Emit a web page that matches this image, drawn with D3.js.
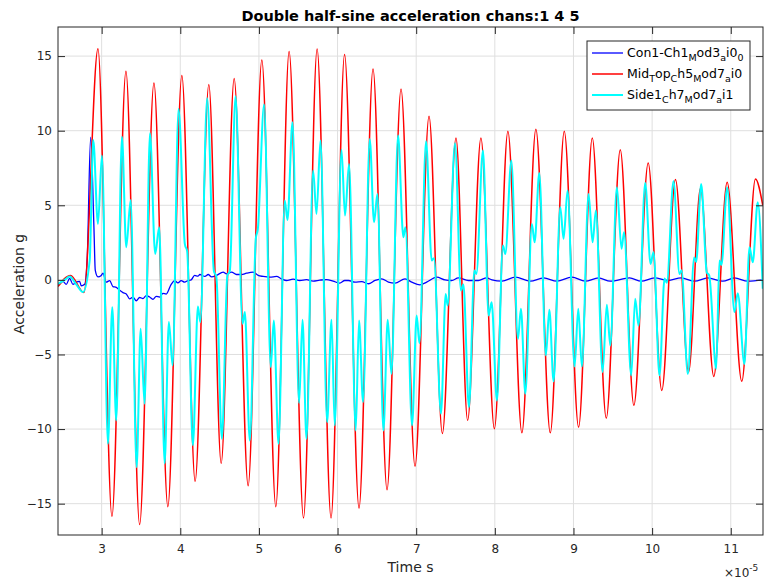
<!DOCTYPE html>
<html>
<head>
<meta charset="utf-8">
<script src="https://cdn.jsdelivr.net/npm/d3@7"></script>
<style>
  body { margin: 0; background: #fff; }
  svg { font-family: "DejaVu Sans", sans-serif; }
</style>
</head>
<body>
<svg id="chart" width="765" height="580"></svg>
<script>
// time values are in units of 1e-5 s (axis shows x10^-5)
const conTime = [2.445,2.508,2.550,2.593,2.635,2.677,2.720,2.741,2.784,2.817,2.860,2.902,2.919,2.953,2.995,3.017,3.058,3.102,3.144,3.186,3.229,3.271,3.313,3.356,3.398,3.440,3.483,3.525,3.567,3.610,3.652,3.694,3.737,3.779,3.821,3.884,3.928,3.970,4.011,4.055,4.097,4.139,4.182,4.224,4.249,4.313,4.355,4.398,4.461,4.545,4.588,4.652,4.715,4.779,4.842,4.926,4.990,5.053,5.139,5.224,5.287,5.351,5.435,5.520,5.605,5.689,5.774,5.859,5.943,6.028,6.092,6.139,6.222,6.308,6.393,6.477,6.562,6.647,6.731,6.858,6.943,7.048,7.133,7.261,7.366,7.451,7.536,7.663,7.790,7.896,7.963,8.090,8.261,8.451,8.620,8.789,8.980,9.150,9.319,9.468,9.713,9.862,10.031,10.200,10.370,10.539,10.708,10.898,11.047,11.216,11.407];
const conAccel = [-0.38,-0.1,-0.3,0.1,-0.3,-0.15,-0.1,-0.4,-0.3,1.5,9.56,3.5,0.63,0.2,0.3,0.45,-0.15,-0.05,-0.45,-0.5,-0.7,-0.85,-0.94,-1.27,-1.15,-1.4,-1.18,-1.25,-1.05,-1.15,-1.3,-1.1,-1.15,-0.9,-0.95,-0.3,-0.05,-0.2,-0.05,-0.15,-0.05,0.0,0.3,0.25,0.36,0.23,0.36,0.2,0.3,0.52,0.4,0.52,0.36,0.36,0.45,0.52,0.3,0.23,0.18,0.23,0.07,-0.04,0.05,-0.04,0.02,-0.08,-0.02,0.02,-0.08,-0.22,-0.04,-0.04,-0.15,-0.12,-0.26,-0.04,0.07,-0.15,-0.22,0.07,-0.15,-0.33,-0.15,0.18,0.0,-0.04,0.13,-0.04,-0.04,0.13,0.0,-0.09,0.18,-0.09,0.13,-0.09,0.18,-0.09,0.13,-0.09,0.13,-0.09,0.13,-0.04,0.13,-0.09,0.13,-0.09,0.13,-0.09,0.0];

const midTime = [2.445,2.604,2.775,2.953,3.131,3.309,3.483,3.665,3.842,4.020,4.189,4.363,4.520,4.685,4.863,5.037,5.215,5.384,5.567,5.740,5.917,6.089,6.273,6.451,6.629,6.807,6.985,7.163,7.333,7.506,7.654,7.823,7.994,8.166,8.344,8.522,8.705,8.883,9.065,9.239,9.417,9.595,9.768,9.950,10.123,10.297,10.463,10.615,10.784,10.954,11.140,11.314,11.407];
const midAccel = [-0.45,0.3,-0.85,15.5,-15.85,13.98,-16.4,13.2,-15.2,13.7,-13.5,13.1,-12.3,13.5,-13.8,14.73,-15.2,15.3,-15.96,15.47,-15.96,15.1,-15.3,14.13,-14.07,12.8,-12.5,10.96,-10.3,9.51,-9.42,9.51,-9.98,9.96,-10.25,10.1,-10.25,9.96,-9.87,9.51,-9.27,8.73,-8.41,7.84,-7.41,6.72,-6.18,6.14,-6.47,6.54,-6.8,6.77,5.0];

const sideTime = [2.445,2.530,2.593,2.677,2.762,2.848,2.893,2.953,3.004,3.080,3.135,3.186,3.258,3.313,3.369,3.445,3.496,3.546,3.614,3.681,3.732,3.801,3.855,3.902,3.978,4.058,4.088,4.160,4.224,4.255,4.342,4.427,4.459,4.529,4.599,4.630,4.703,4.792,4.821,4.884,4.961,4.986,5.066,5.151,5.189,5.249,5.329,5.363,5.427,5.511,5.554,5.605,5.689,5.732,5.783,5.867,5.923,5.964,6.050,6.095,6.146,6.231,6.273,6.324,6.409,6.464,6.507,6.583,6.638,6.685,6.769,6.837,6.863,6.947,7.006,7.041,7.125,7.197,7.226,7.315,7.375,7.400,7.493,7.569,7.600,7.671,7.740,7.765,7.849,7.921,7.959,8.027,8.103,8.133,8.210,8.294,8.332,8.388,8.471,8.506,8.565,8.649,8.693,8.747,8.832,8.874,8.925,9.014,9.061,9.107,9.192,9.243,9.285,9.370,9.424,9.468,9.552,9.611,9.643,9.734,9.785,9.827,9.912,9.980,10.018,10.094,10.158,10.187,10.272,10.348,10.374,10.454,10.535,10.560,10.624,10.695,10.726,10.815,10.856,10.882,10.954,11.047,11.089,11.174,11.238,11.280,11.343,11.407];
const sideAccel = [-0.27,0.0,0.23,-0.3,-0.82,1.3,9.38,3.75,8.33,-10.98,-1.83,-9.42,9.6,2.19,5.36,-12.55,-3.28,-8.3,9.83,1.74,3.53,-12.3,-2.83,-5.73,11.45,2.4,1.9,-11.09,-1.78,-2.83,12.17,0.6,0.2,-10.65,0.3,0.6,12.3,-2.94,-2.16,-10.76,2.8,3.4,11.75,-5.85,-2.72,-10.98,5.32,4.02,10.56,-8.26,-2.68,-10.65,7.33,4.42,9.34,-9.53,-2.68,-9.75,8.73,4.31,7.77,-10.09,-2.72,-8.19,9.45,3.86,5.76,-10.09,-2.68,-6.3,9.67,2.86,3.53,-9.75,-2.39,-4.24,9.29,1.3,1.45,-8.97,-0.94,-1.72,9.16,-0.71,-0.31,-8.53,0.63,0.4,8.67,-2.39,-1.5,-8.08,2.3,1.74,8.0,-3.95,-1.94,-7.64,3.75,2.52,7.17,-5.06,-2.0,-6.8,4.87,2.75,5.99,-5.8,-1.94,-5.8,5.76,2.52,4.65,-6.18,-1.67,-4.39,6.21,2.08,3.2,-6.4,-1.27,-3.06,6.5,1.07,1.86,-6.4,0.1,-0.2,6.61,0.4,0.65,-6.3,1.5,1.2,6.43,0.5,0.3,-5.96,1.3,1.0,6.2,-2.16,-0.9,-5.63,2.19,1.18,5.2,-0.6];

const xTicks = [3, 4, 5, 6, 7, 8, 9, 10, 11];
const yTicks = [-15, -10, -5, 0, 5, 10, 15];

// legend labels: [text, subscript?]
const legendLabels = [
  [["Con1-Ch1", 0], ["M", 1], ["od3", 0], ["a", 1], ["i0", 0], ["0", 1]],
  [["Mid", 0], ["T", 1], ["op", 0], ["C", 1], ["h5", 0], ["M", 1], ["od7", 0], ["a", 1], ["i0", 0]],
  [["Side1", 0], ["C", 1], ["h7", 0], ["M", 1], ["od7", 0], ["a", 1], ["i1", 0]]
];
const lineColors = ["#0000ff", "#ff0000", "#00ffff"];
const lineWidths = [1.3, 1.5, 2];

const svg = d3.select("#chart");
const plotL = 58, plotR = 763, plotT = 27, plotB = 535;

const x = d3.scaleLinear().domain([2.445, 11.41]).range([plotL, plotR]);
const y = d3.scaleLinear().domain([-17.1, 16.95]).range([plotB, plotT]);

svg.append("rect").attr("width", 765).attr("height", 580).attr("fill", "#fff");

// grid
const grid = svg.append("g").attr("stroke", "#dfdfdf").attr("stroke-width", 1);
grid.selectAll("line.vx").data(xTicks).enter().append("line")
  .attr("x1", d => x(d)).attr("x2", d => x(d)).attr("y1", plotT).attr("y2", plotB);
grid.selectAll("line.hy").data(yTicks).enter().append("line")
  .attr("x1", plotL).attr("x2", plotR).attr("y1", d => y(d)).attr("y2", d => y(d));

svg.append("clipPath").attr("id", "clip").append("rect")
  .attr("x", plotL).attr("y", plotT).attr("width", plotR - plotL).attr("height", plotB - plotT);

const series = [
  conTime.map((t, i) => [t, conAccel[i]]),
  midTime.map((t, i) => [t, midAccel[i]]),
  sideTime.map((t, i) => [t, sideAccel[i]])
];

const line = d3.line().x(d => x(d[0])).y(d => y(d[1])).curve(d3.curveMonotoneX);

svg.append("g").attr("clip-path", "url(#clip)")
  .selectAll("path").data(series).enter().append("path")
  .attr("d", line)
  .attr("fill", "none")
  .attr("stroke", (d, i) => lineColors[i])
  .attr("stroke-width", (d, i) => lineWidths[i])
  .attr("stroke-linejoin", "round");

// axes, matlab style with inward ticks on all sides
function styleAxis(g) {
  g.select(".domain").remove();
  g.selectAll(".tick line").attr("stroke", "#262626");
  g.selectAll(".tick text").attr("fill", "#262626").style("font-size", "12px")
    .style("font-family", "'DejaVu Sans', sans-serif");
}
svg.append("g").attr("transform", `translate(0,${plotB})`)
  .call(d3.axisBottom(x).tickValues(xTicks).tickSizeInner(-7).tickSizeOuter(0).tickPadding(9))
  .call(styleAxis);
svg.append("g").attr("transform", `translate(0,${plotT})`)
  .call(d3.axisTop(x).tickValues(xTicks).tickSizeInner(-7).tickSizeOuter(0).tickFormat(""))
  .call(styleAxis);
svg.append("g").attr("transform", `translate(${plotL},0)`)
  .call(d3.axisLeft(y).tickValues(yTicks).tickSizeInner(-7).tickSizeOuter(0).tickPadding(6))
  .call(styleAxis);
svg.append("g").attr("transform", `translate(${plotR},0)`)
  .call(d3.axisRight(y).tickValues(yTicks).tickSizeInner(-7).tickSizeOuter(0).tickFormat(""))
  .call(styleAxis);

svg.append("rect").attr("x", plotL).attr("y", plotT)
  .attr("width", plotR - plotL).attr("height", plotB - plotT)
  .attr("fill", "none").attr("stroke", "#262626").attr("stroke-width", 1);

// title and labels
svg.append("text").attr("x", (plotL + plotR) / 2).attr("y", 21)
  .attr("text-anchor", "middle").attr("font-weight", "bold").attr("font-size", 14.5)
  .attr("fill", "#000").text("Double half-sine acceleration chans:1 4 5");

svg.append("text").attr("x", (plotL + plotR) / 2).attr("y", 572)
  .attr("text-anchor", "middle").attr("font-size", 14).attr("fill", "#262626").text("Time s");

svg.append("text").attr("transform", `translate(24,${(plotT + plotB) / 2 + 3}) rotate(-90)`)
  .attr("text-anchor", "middle").attr("font-size", 14).attr("fill", "#262626").text("Acceleration g");

const mult = svg.append("text").attr("x", 724).attr("y", 577).attr("font-size", 12).attr("fill", "#262626");
mult.append("tspan").text("\u00d710");
mult.append("tspan").attr("dy", -6).attr("font-size", 9).text("-5");

// legend
const lg = svg.append("g").attr("transform", "translate(587,41)");
lg.append("rect").attr("width", 163).attr("height", 69)
  .attr("fill", "#fff").attr("stroke", "#262626").attr("stroke-width", 1);
legendLabels.forEach((parts, i) => {
  const yy = 12 + i * 21;
  lg.append("line").attr("x1", 5).attr("x2", 36).attr("y1", yy).attr("y2", yy)
    .attr("stroke", lineColors[i]).attr("stroke-width", lineWidths[i]);
  const t = lg.append("text").attr("x", 40).attr("y", yy + 4).attr("font-size", 12.5).attr("fill", "#000");
  let shifted = false;
  parts.forEach(([s, sub]) => {
    const ts = t.append("tspan").text(s);
    if (sub && !shifted) { ts.attr("dy", 4).attr("font-size", 9.5); shifted = true; }
    else if (sub) { ts.attr("font-size", 9.5); }
    else if (!sub && shifted) { ts.attr("dy", -4); shifted = false; }
  });
});
</script>
</body>
</html>
